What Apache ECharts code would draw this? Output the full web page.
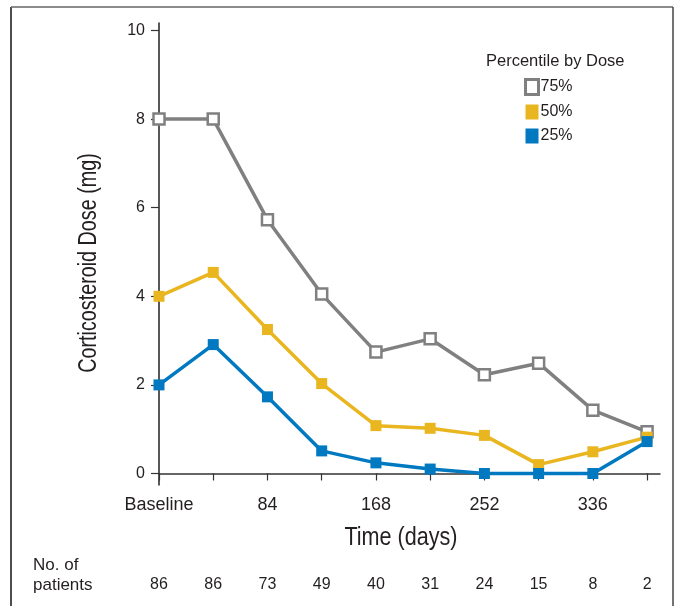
<!DOCTYPE html>
<html>
<head>
<meta charset="utf-8">
<script src="https://cdn.jsdelivr.net/npm/echarts@6/dist/echarts.min.js"></script>
<style>
  html, body { margin: 0; padding: 0; background: #fff; }
  #main { width: 678px; height: 606px; }
</style>
</head>
<body>
<div id="main"></div>
<script>
// time points (days) and the values
const days = [0, 42, 84, 126, 168, 210, 252, 294, 336, 378];
const labelDays = [0, 84, 168, 252, 336];
const labelNames = ['Baseline', '84', '168', '252', '336'];
const patients = [86, 86, 73, 49, 40, 31, 24, 15, 8, 2];
const yTicks = [0, 2, 4, 6, 8, 10];

const p75 = [8, 8, 5.73, 4.05, 2.74, 3.04, 2.23, 2.49, 1.43, 0.94];
const p50 = [4.0, 4.54, 3.25, 2.03, 1.08, 1.02, 0.86, 0.2, 0.49, 0.82];
const p25 = [2.0, 2.91, 1.73, 0.51, 0.24, 0.1, 0, 0, 0, 0.72];

const GRAY = '#808080';
const YELLOW = '#e9b620';
const BLUE = '#0079c1';
const TEXT = '#231f20';
const FONT = 'Liberation Sans, Arial, sans-serif';

function pairs(vals) {
  return days.map((d, i) => [d, vals[i]]);
}

const chart = echarts.init(document.getElementById('main'), null, { renderer: 'canvas' });

const option = {
  animation: false,
  backgroundColor: '#fff',
  textStyle: { fontFamily: FONT, color: TEXT },
  title: {
    text: 'Percentile by Dose',
    left: 486,
    top: 53,
    padding: 0,
    textStyle: { fontSize: 16.5, fontWeight: 'normal', color: TEXT, fontFamily: FONT }
  },
  legend: {
    orient: 'vertical',
    left: 524,
    top: 78,
    padding: 0,
    icon: 'rect',
    itemWidth: 13,
    itemHeight: 15,
    itemGap: 8,
    textStyle: { fontSize: 16, color: TEXT, fontFamily: FONT, padding: [0, 0, 0, -3] },
    data: [
      { name: '75%', itemStyle: { color: '#fff', borderColor: GRAY, borderWidth: 3 } },
      { name: '50%', itemStyle: { color: YELLOW } },
      { name: '25%', itemStyle: { color: BLUE } }
    ]
  },
  grid: { left: 159, right: 18, top: 23, bottom: 121 },
  xAxis: [
    {
      type: 'value',
      min: 0,
      max: 388,
      splitLine: { show: false },
      axisLine: { lineStyle: { color: '#333', width: 1.5 } },
      axisTick: { show: true, length: 7, customValues: days, lineStyle: { color: '#333', width: 1.2 } },
      axisLabel: {
        customValues: labelDays,
        margin: 11,
        fontSize: 18,
        color: TEXT,
        fontFamily: FONT,
        formatter: v => labelNames[labelDays.indexOf(v)]
      }
    },
    {
      type: 'value',
      min: 0,
      max: 388,
      position: 'bottom',
      offset: 84,
      splitLine: { show: false },
      axisLine: { show: false },
      axisTick: { show: false },
      axisLabel: {
        customValues: days,
        margin: 8,
        fontSize: 16,
        color: TEXT,
        fontFamily: FONT,
        formatter: v => String(patients[days.indexOf(v)])
      }
    }
  ],
  yAxis: {
    type: 'value',
    min: -0.26,
    max: 10.17,
    splitLine: { show: false },
    axisLine: { show: true, lineStyle: { color: '#231f20', width: 1.5 } },
    axisTick: { show: true, length: 8, customValues: yTicks, lineStyle: { color: '#333', width: 1.2 } },
    axisLabel: { customValues: yTicks, margin: 14, fontSize: 16, color: TEXT, fontFamily: FONT }
  },
  series: [
    {
      name: '75%',
      type: 'line',
      data: pairs(p75),
      symbol: 'rect',
      symbolSize: 11,
      lineStyle: { color: GRAY, width: 3.5 },
      itemStyle: { color: '#fff', borderColor: GRAY, borderWidth: 2.5 }
    },
    {
      name: '50%',
      type: 'line',
      data: pairs(p50),
      symbol: 'rect',
      symbolSize: 11,
      lineStyle: { color: YELLOW, width: 3.5 },
      itemStyle: { color: YELLOW }
    },
    {
      name: '25%',
      type: 'line',
      data: pairs(p25),
      symbol: 'rect',
      symbolSize: 11,
      lineStyle: { color: BLUE, width: 3.5 },
      itemStyle: { color: BLUE }
    }
  ],
  graphic: [
    // axis titles, squeezed to mimic the condensed face of the original
    {
      type: 'text',
      x: 401,
      y: 538,
      scaleX: 0.83,
      style: { text: 'Time (days)', fontSize: 26, fill: TEXT, fontFamily: FONT, align: 'center', verticalAlign: 'middle' }
    },
    {
      type: 'text',
      x: 89,
      y: 263,
      rotation: Math.PI / 2,
      scaleX: 0.79,
      style: { text: 'Corticosteroid Dose (mg)', fontSize: 25, fill: TEXT, fontFamily: FONT, align: 'center', verticalAlign: 'middle' }
    },
    {
      type: 'text',
      left: 33,
      top: 555,
      style: { text: 'No. of\npatients', fontSize: 17, lineHeight: 20, fill: TEXT, fontFamily: FONT }
    },
    { type: 'line', shape: { x1: 11, y1: 7, x2: 11, y2: 606 }, style: { stroke: '#4d4d4d', lineWidth: 2 } },
    { type: 'line', shape: { x1: 11, y1: 7, x2: 673, y2: 7 }, style: { stroke: '#666', lineWidth: 1.5 } },
    { type: 'line', shape: { x1: 673, y1: 7, x2: 673, y2: 606 }, style: { stroke: '#444', lineWidth: 1.5 } }
  ]
};

chart.setOption(option);
</script>
</body>
</html>
